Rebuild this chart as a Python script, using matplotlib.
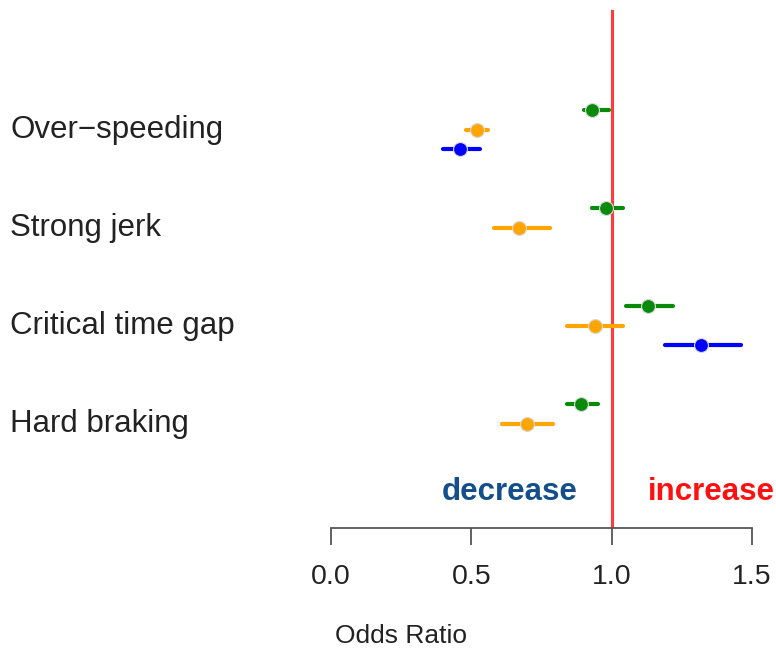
import numpy as np
import matplotlib
matplotlib.use("Agg")
import matplotlib.pyplot as plt
from matplotlib import transforms

plt.rcParams['font.family'] = ['Liberation Sans', 'DejaVu Sans']

# Datos (odds ratio e intervalos)
categories = ["Over\u2212speeding", "Strong jerk", "Critical time gap", "Hard braking"]

green_or = [0.93, 0.98, 1.13, 0.89]
green_lo = [0.90, 0.93, 1.05, 0.84]
green_hi = [0.99, 1.04, 1.22, 0.95]

orange_or = [0.52, 0.67, 0.94, 0.70]
orange_lo = [0.48, 0.58, 0.84, 0.61]
orange_hi = [0.56, 0.78, 1.04, 0.79]

blue_or = [0.46, np.nan, 1.32, np.nan]
blue_lo = [0.40, np.nan, 1.19, np.nan]
blue_hi = [0.53, np.nan, 1.46, np.nan]

xticks = [0.0, 0.5, 1.0, 1.5]

series = [
    (green_or, green_lo, green_hi, "#0A8A0A"),
    (orange_or, orange_lo, orange_hi, "#FFA500"),
    (blue_or, blue_lo, blue_hi, "#0000FF"),
]

W, H = 776, 650
fig = plt.figure(figsize=(W / 100, H / 100), dpi=100)
# ejes: x=0 en px 331, x=1.5 en px 752, arriba px 10, abajo px 528
ax = fig.add_axes([331 / W, (H - 528) / H, (752 - 331) / W, (528 - 10) / H])

ax.axvline(1.0, color="#FF3B3B", lw=2.2, zorder=1)

for j, (est, lo, hi, col) in enumerate(series):
    for i in range(len(categories)):
        if np.isnan(est[i]):
            continue
        y = i * 5 + j
        ax.plot([lo[i], hi[i]], [y, y], color=col, lw=3.0, solid_capstyle="round", zorder=2)
        ax.plot(est[i], y, "o", color=col, ms=10, mec="#D8D8D8", mew=0.8, zorder=3)

ax.set_xlim(0, 1.5)
# px = 110 + 19.6*y
ax.set_ylim((528 - 110) / 19.6, (10 - 110) / 19.6)

for s in ["top", "right", "left"]:
    ax.spines[s].set_visible(False)
ax.spines["bottom"].set_color("#555555")
ax.spines["bottom"].set_linewidth(1.3)
ax.set_yticks([])
ax.set_xticks(xticks)
ax.set_xticklabels([f"{t:.1f}" for t in xticks], fontsize=20.5, color="#222222")
ax.tick_params(axis="x", direction="out", length=12, width=1.3, color="#555555", pad=14)

# etiquetas de categorias
trans = transforms.blended_transform_factory(fig.transFigure, ax.transData)
for i, cat in enumerate(categories):
    ax.text(10 / W, i * 5 + 1, cat, transform=trans, ha="left", va="center",
            fontsize=22.5, color="#222222")

ax.text(0.877, 19.5, "decrease", ha="right", va="center", fontsize=22.5,
        fontweight="bold", color="#154F8B")
ax.text(1.13, 19.5, "increase", ha="left", va="center", fontsize=22.5,
        fontweight="bold", color="#FF1010")

fig.text(401 / W, 1 - 636 / H, "Odds Ratio", ha="center", va="center",
         fontsize=19, color="#222222")

fig.savefig("out.png", dpi=100)
